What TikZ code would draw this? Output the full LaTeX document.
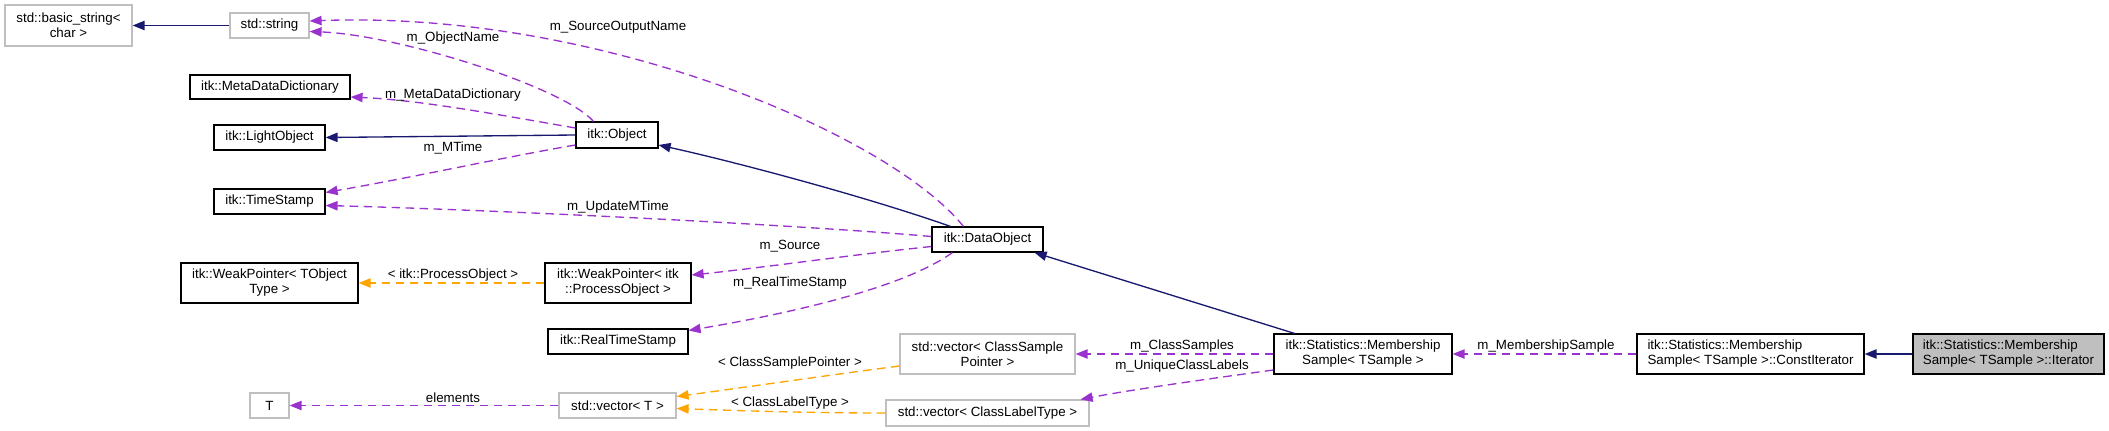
\documentclass[tikz,border=0pt]{standalone}
\usepackage{fontspec}
\setmainfont{Liberation Sans}
\usetikzlibrary{arrows.meta,calc}
\definecolor{inhc}{HTML}{191970}
\definecolor{usec}{HTML}{9A32CD}
\definecolor{tmpc}{HTML}{FFA500}
\definecolor{grayb}{HTML}{BFBFBF}
\begin{document}
\begin{tikzpicture}[x=0.75pt,y=-0.75pt,
  every node/.style={font=\fontsize{10pt}{11.25pt}\selectfont},
  box/.style={draw=black, line width=0.9pt, inner sep=0pt, align=center, fill=white},
  gbox/.style={box, draw=grayb},
  sz/.style 2 args={minimum width=#1*0.75pt, minimum height=#2*0.75pt},
  tip/.style={-{Triangle[length=9pt,width=7pt]}},
  inh/.style={draw=inhc, line width=1pt, tip},
  use/.style={draw=usec, line width=1pt, dash pattern=on 6.5pt off 4pt, tip},
  tmpl/.style={draw=tmpc, line width=1pt, dash pattern=on 6.5pt off 4pt, tip},
  lbl/.style={inner sep=0pt}]
\useasboundingbox (0,0) rectangle (2109,431);
% nodes
\node[gbox, sz={127}{41}] (bstr) at (68.5,25.5) {std::basic\_string<\\char >};
\node[gbox, sz={79}{25}] (str) at (269.5,25.5) {std::string};
\node[box, sz={160}{24}] (mdd) at (270,87) {itk::MetaDataDictionary};
\node[box, sz={111}{25}] (lobj) at (269.5,137.5) {itk::LightObject};
\node[box, sz={82}{26}] (obj) at (617,135) {itk::Object};
\node[box, sz={111}{25}] (ts) at (269.5,201.5) {itk::TimeStamp};
\node[box, sz={177}{40}] (wpT) at (269.5,283) {itk::WeakPointer< TObject\\Type >};
\node[box, sz={146}{40}] (wpP) at (618,283) {itk::WeakPointer< itk\\::ProcessObject >};
\node[box, sz={140}{25}] (rts) at (618,341.5) {itk::RealTimeStamp};
\node[gbox, sz={39}{25}] (T) at (269.5,405.5) {T};
\node[gbox, sz={117}{25}] (vecT) at (617.5,405.5) {std::vector< T >};
\node[box, sz={111}{25}] (dobj) at (987.5,239.5) {itk::DataObject};
\node[gbox, sz={175}{40}] (vecCSP) at (987.5,354) {std::vector< ClassSample\\Pointer >};
\node[gbox, sz={203}{26}] (vecCLT) at (987.5,413) {std::vector< ClassLabelType >};
\node[box, sz={178}{40}] (ms) at (1363,354) {itk::Statistics::Membership\\Sample< TSample >};
\node[box, align=left, sz={227}{40}] (cit) at (1750.5,354) {itk::Statistics::Membership\\Sample< TSample >::ConstIterator};
\node[box, align=left, fill=grayb, sz={191}{40}] (it) at (2008.5,354) {itk::Statistics::Membership\\Sample< TSample >::Iterator};
% edges
\draw[inh] (str.west) -- (bstr.east);
\draw[use] ($(obj.north west)+(18,0)$) .. controls (565,88) and (400,35) .. ($(str.east)+(0,6)$);
\draw[use] ($(dobj.north west)+(32,0)$) .. controls (890,135) and (600,10) .. ($(str.east)+(0,-4.5)$);
\draw[use] ($(obj.west)+(0,-7)$) .. controls (500,115) and (420,100) .. ($(mdd.east)+(0,10)$);
\draw[inh] (obj.west) -- (lobj.east);
\draw[use] ($(obj.west)+(0,10)$) .. controls (500,158) and (420,176) .. ($(ts.east)+(0,-9)$);
\draw[use] ($(dobj.west)+(0,-3)$) .. controls (800,225) and (500,210) .. ($(ts.east)+(0,4)$);
\draw[inh] ($(dobj.north west)+(19,0)$) .. controls (870,198) and (740,163) .. ($(obj.east)+(0,10)$);
\draw[use] ($(dobj.west)+(0,7)$) .. controls (850,255) and (760,268) .. ($(wpP.east)+(0,-8)$);
\draw[use] ($(dobj.south west)+(21,0)$) .. controls (900,290) and (780,315) .. ($(rts.east)+(0,-11)$);
\draw[tmpl] (wpP.west) -- (wpT.east);
\draw[inh] ($(ms.north west)+(21,0)$) -- ($(dobj.south east)+(-9,0)$);
\draw[use] (ms.west) -- (vecCSP.east);
\draw[use] ($(ms.west)+(0,16)$) .. controls (1200,380) and (1130,390) .. ($(vecCLT.north east)+(-9,0)$);
\draw[tmpl] ($(vecCSP.west)+(0,12)$) .. controls (830,375) and (740,388) .. ($(vecT.east)+(0,-9)$);
\draw[tmpl] (vecCLT.west) .. controls (800,413) and (720,410) .. ($(vecT.east)+(0,3)$);
\draw[use] (vecT.west) -- (T.east);
\draw[use] (cit.west) -- (ms.east);
\draw[inh] (it.west) -- (cit.east);
% labels
\node[lbl] (lObjName) at (453,38) {m\_ObjectName};
\node[lbl] (lSON) at (618,27) {m\_SourceOutputName};
\node[lbl] (lMDD) at (453,95) {m\_MetaDataDictionary};
\node[lbl] (lMT) at (453,148) {m\_MTime};
\node[lbl] (lUMT) at (618,207) {m\_UpdateMTime};
\node[lbl] (lPO) at (453,275) {< itk::ProcessObject >};
\node[lbl] (lSrc) at (790,246) {m\_Source};
\node[lbl] (lRTS) at (790,283) {m\_RealTimeStamp};
\node[lbl] (lCSP) at (790,363) {< ClassSamplePointer >};
\node[lbl] (lCLT) at (790,403) {< ClassLabelType >};
\node[lbl] (lEl) at (453,398) {elements};
\node[lbl] (lCS) at (1182,346) {m\_ClassSamples};
\node[lbl] (lUCL) at (1182,366) {m\_UniqueClassLabels};
\node[lbl] (lMS) at (1546,346) {m\_MembershipSample};
\end{tikzpicture}
\end{document}
